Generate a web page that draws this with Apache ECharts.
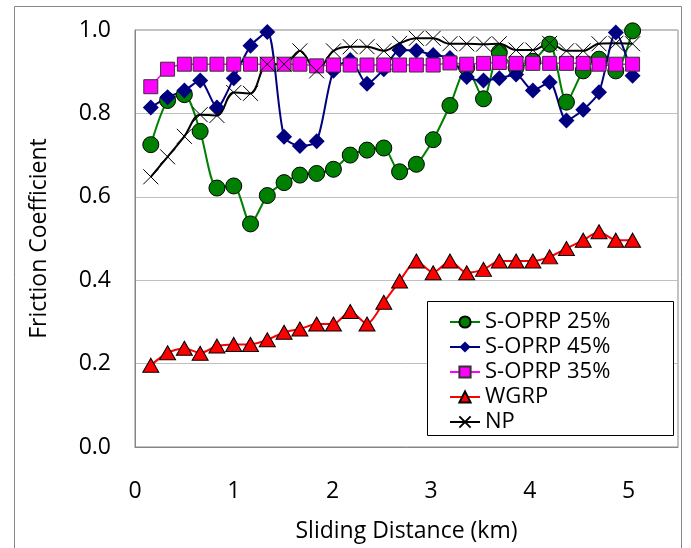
<!DOCTYPE html>
<html>
<head>
<meta charset="utf-8">
<script src="https://cdn.jsdelivr.net/npm/echarts@6/dist/echarts.min.js"></script>
<style>
  html, body { margin: 0; padding: 0; background: #fff; }
  #chart { width: 691px; height: 548px; }
</style>
</head>
<body>
<div id="chart"></div>
<script>
// sliding distance (km) of each measurement
const distance = [0.16, 0.33, 0.50, 0.66, 0.83, 1.00, 1.17, 1.34, 1.51, 1.67,
  1.84, 2.01, 2.18, 2.35, 2.52, 2.68, 2.85, 3.02, 3.19, 3.36,
  3.53, 3.69, 3.86, 4.03, 4.20, 4.37, 4.54, 4.70, 4.87, 5.04];

const soprp25 = [0.725, 0.831, 0.845, 0.757, 0.621, 0.626, 0.535, 0.603, 0.634, 0.652,
  0.656, 0.666, 0.700, 0.712, 0.717, 0.660, 0.678, 0.737, 0.819, 0.910,
  0.835, 0.946, 0.910, 0.925, 0.966, 0.827, 0.902, 0.930, 0.902, 0.998];

const soprp45 = [0.814, 0.839, 0.855, 0.879, 0.814, 0.884, 0.962, 0.995, 0.744, 0.722,
  0.733, 0.902, 0.928, 0.871, 0.906, 0.952, 0.950, 0.940, 0.933, 0.887,
  0.879, 0.884, 0.893, 0.855, 0.875, 0.783, 0.809, 0.851, 0.994, 0.890];

const soprp35 = [0.864, 0.906, 0.918, 0.918, 0.918, 0.918, 0.918, 0.918, 0.918, 0.918,
  0.914, 0.916, 0.916, 0.916, 0.916, 0.916, 0.916, 0.916, 0.921, 0.918,
  0.920, 0.922, 0.920, 0.920, 0.920, 0.920, 0.920, 0.918, 0.918, 0.918];

const wgrp = [0.196, 0.226, 0.237, 0.225, 0.242, 0.246, 0.246, 0.257, 0.275, 0.283,
  0.295, 0.295, 0.325, 0.295, 0.347, 0.398, 0.446, 0.418, 0.446, 0.418,
  0.426, 0.446, 0.446, 0.446, 0.456, 0.476, 0.496, 0.516, 0.496, 0.496];

const np = [0.648, 0.696, 0.745, 0.797, 0.795, 0.850, 0.848, 0.918, 0.918, 0.950,
  0.902, 0.950, 0.960, 0.960, 0.950, 0.968, 0.980, 0.980, 0.967, 0.967,
  0.966, 0.967, 0.952, 0.952, 0.968, 0.950, 0.950, 0.967, 0.968, 0.967];

const seriesNames = ["S-OPRP 25%", "S-OPRP 45%", "S-OPRP 35%", "WGRP", "NP"];
const xTicks = [0, 1, 2, 3, 4, 5];

const FONT = "Open Sans";
const AXIS_GREY = "#868686";

function pairs(ys) {
  return ys.map((y, i) => [distance[i], y]);
}

const chart = echarts.init(document.getElementById("chart"));

chart.setOption({
  animation: false,
  backgroundColor: "#fff",
  textStyle: { fontFamily: FONT },
  grid: {
    left: 135, top: 30, right: 13, bottom: 99,
    show: true, borderColor: AXIS_GREY, borderWidth: 1, backgroundColor: "transparent"
  },
  graphic: [
    {
      type: "rect", z: -1, silent: true,
      shape: { x: 14.5, y: 6.5, width: 667, height: 600 },
      style: { fill: "none", stroke: AXIS_GREY, lineWidth: 1 }
    },
    {
      type: "rect", z: 20, silent: true,
      shape: { x: 427.5, y: 301.5, width: 246, height: 134 },
      style: { fill: "#fff", stroke: "#000", lineWidth: 1 }
    }
  ],
  legend: {
    data: seriesNames,
    orient: "vertical",
    left: 427, top: 301,
    z: 30,
    padding: [9, 10, 4, 22],
    itemGap: 1,
    itemWidth: 30,
    itemHeight: 14,
    selectedMode: false,
    textStyle: { fontFamily: FONT, fontSize: 22, lineHeight: 24, color: "#000" }
  },
  xAxis: {
    type: "value",
    min: 0, max: 5.5, interval: 1,
    name: "Sliding Distance (km)",
    nameLocation: "middle",
    nameGap: 73,
    nameTextStyle: { fontFamily: FONT, fontSize: 23, color: "#000" },
    axisLine: { show: true, lineStyle: { color: AXIS_GREY } },
    axisTick: { show: false },
    splitLine: { show: false },
    axisLabel: {
      margin: 33, fontSize: 23, color: "#000", fontFamily: FONT,
      formatter: (v) => (xTicks.includes(v) ? String(v) : "")
    }
  },
  yAxis: {
    type: "value",
    min: 0, max: 1, interval: 0.2,
    name: "Friction Coefficient",
    nameLocation: "middle",
    nameGap: 84,
    nameTextStyle: { fontFamily: FONT, fontSize: 23, color: "#000" },
    axisLine: { show: true, lineStyle: { color: AXIS_GREY } },
    axisTick: { show: false },
    splitLine: { show: true, lineStyle: { color: "#c0c0c0" } },
    axisLabel: {
      margin: 24, fontSize: 23, color: "#000", fontFamily: FONT,
      formatter: (v) => v.toFixed(1)
    }
  },
  series: [
    {
      name: seriesNames[0], type: "line", smooth: 0.25,
      data: pairs(soprp25),
      symbol: "circle", symbolSize: 16,
      lineStyle: { color: "#008000", width: 2 },
      itemStyle: { color: "#008000", borderColor: "#000", borderWidth: 1 }
    },
    {
      name: seriesNames[1], type: "line", smooth: 0.25,
      data: pairs(soprp45),
      symbol: "diamond", symbolSize: 16,
      lineStyle: { color: "#000080", width: 2 },
      itemStyle: { color: "#000080", borderColor: "#000080", borderWidth: 0 }
    },
    {
      name: seriesNames[2], type: "line", smooth: 0.25,
      data: pairs(soprp35),
      symbol: "rect", symbolSize: 14,
      lineStyle: { color: "#ff00ff", width: 1.5 },
      itemStyle: { color: "#ff00ff", borderColor: "#333", borderWidth: 1 }
    },
    {
      name: seriesNames[3], type: "line", smooth: 0.25,
      data: pairs(wgrp),
      symbol: "triangle", symbolSize: [16, 14],
      lineStyle: { color: "#ff0000", width: 2 },
      itemStyle: { color: "#ff0000", borderColor: "#000", borderWidth: 1 }
    },
    {
      name: seriesNames[4], type: "line", smooth: 0.35,
      data: pairs(np),
      symbol: "path://M0,0L10,10M0,10L10,0", symbolSize: 15,
      lineStyle: { color: "#000", width: 2 },
      itemStyle: { color: "#000", borderColor: "#000", borderWidth: 1 }
    }
  ]
});
</script>
</body>
</html>
